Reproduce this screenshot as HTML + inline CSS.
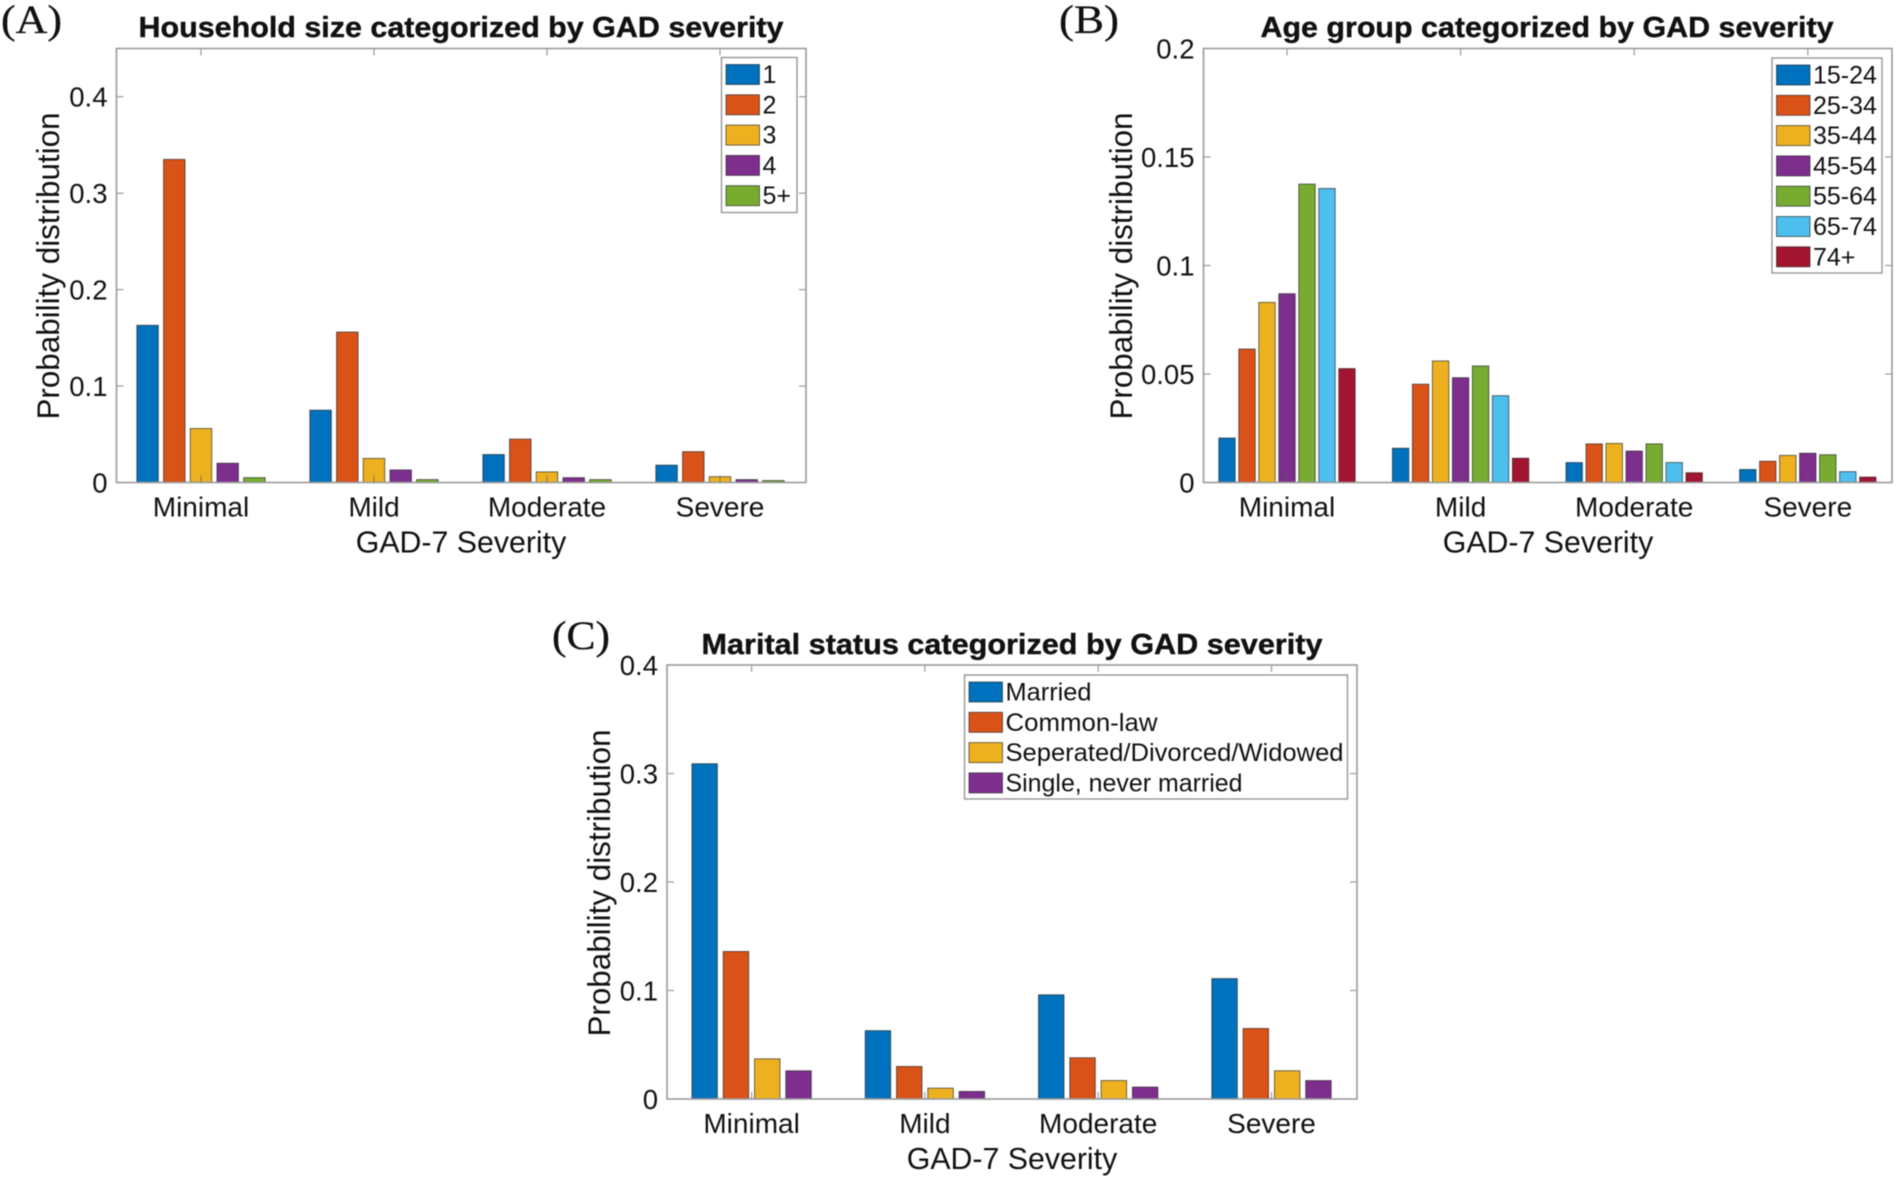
<!DOCTYPE html>
<html lang="en">
<head>
<meta charset="utf-8">
<title>GAD severity probability distributions</title>
<style>
  html, body { margin: 0; padding: 0; background: #fff; }
  body { width: 1900px; height: 1181px; overflow: hidden; }
  svg { display: block; filter: blur(0.4px); }
  text { font-family: "Liberation Sans", Arial, sans-serif; fill: #111; }
  .panel-letter { font-family: "Liberation Serif", "Times New Roman", serif; stroke: #111; stroke-width: 0.3px; }
</style>
</head>
<body>
<svg id="figure" xmlns="http://www.w3.org/2000/svg" width="1900" height="1181" viewBox="0 0 1900 1181">
  <rect width="1900" height="1181" fill="#ffffff"/>
  <text class="panel-letter" x="1" y="33" font-size="40" textLength="61" lengthAdjust="spacingAndGlyphs">(A)</text>
  <text class="panel-letter" x="1059" y="33" font-size="40" textLength="60" lengthAdjust="spacingAndGlyphs">(B)</text>
  <text class="panel-letter" x="552" y="649" font-size="40" textLength="58" lengthAdjust="spacingAndGlyphs">(C)</text>
</svg>
<script>
var categories = ['Minimal', 'Mild', 'Moderate', 'Severe'];
var seriesColors = ['#0072BD', '#D95319', '#EDB120', '#7E2F8E', '#77AC30', '#4DBEEE', '#A2142F'];

var householdLabels = ['1', '2', '3', '4', '5+'];
var householdSize1 = [0.163, 0.075, 0.029, 0.018];
var householdSize2 = [0.335, 0.156, 0.045, 0.032];
var householdSize3 = [0.056, 0.025, 0.011, 0.006];
var householdSize4 = [0.020, 0.013, 0.005, 0.003];
var householdSize5 = [0.005, 0.003, 0.003, 0.002];
var householdTicks = [0, 0.1, 0.2, 0.3, 0.4];
var householdTickLabels = ['0', '0.1', '0.2', '0.3', '0.4'];

var ageLabels = ['15-24', '25-34', '35-44', '45-54', '55-64', '65-74', '74+'];
var age15to24 = [0.0205, 0.0158, 0.0092, 0.0060];
var age25to34 = [0.0615, 0.0453, 0.0178, 0.0098];
var age35to44 = [0.0830, 0.0560, 0.0180, 0.0125];
var age45to54 = [0.0870, 0.0483, 0.0145, 0.0135];
var age55to64 = [0.1375, 0.0537, 0.0178, 0.0128];
var age65to74 = [0.1355, 0.0400, 0.0092, 0.0050];
var age74plus = [0.0525, 0.0112, 0.0045, 0.0025];
var ageTicks = [0, 0.05, 0.1, 0.15, 0.2];
var ageTickLabels = ['0', '0.05', '0.1', '0.15', '0.2'];

var maritalLabels = ['Married', 'Common-law', 'Seperated/Divorced/Widowed', 'Single, never married'];
var maritalMarried = [0.309, 0.063, 0.096, 0.111];
var maritalCommonLaw = [0.136, 0.030, 0.038, 0.065];
var maritalSeparated = [0.037, 0.010, 0.017, 0.026];
var maritalSingle = [0.026, 0.007, 0.011, 0.017];
var maritalTicks = [0, 0.1, 0.2, 0.3, 0.4];
var maritalTickLabels = ['0', '0.1', '0.2', '0.3', '0.4'];

var NS = 'http://www.w3.org/2000/svg';
var figure = document.getElementById('figure');

function makeText(parent, content, x, y, size, anchor, weight) {
  var t = document.createElementNS(NS, 'text');
  t.setAttribute('x', x);
  t.setAttribute('y', y);
  t.setAttribute('font-size', size);
  t.setAttribute('text-anchor', anchor);
  if (weight) t.setAttribute('font-weight', weight);
  t.textContent = content;
  parent.appendChild(t);
  return t;
}

function makeRect(parent, x, y, w, h, fill, stroke, sw) {
  var r = document.createElementNS(NS, 'rect');
  r.setAttribute('x', x);
  r.setAttribute('y', y);
  r.setAttribute('width', w);
  r.setAttribute('height', h);
  r.setAttribute('fill', fill);
  r.setAttribute('stroke', stroke);
  r.setAttribute('stroke-width', sw);
  parent.appendChild(r);
  return r;
}

function makeLine(parent, x1, y1, x2, y2, color, sw) {
  var l = document.createElementNS(NS, 'line');
  l.setAttribute('x1', x1);
  l.setAttribute('y1', y1);
  l.setAttribute('x2', x2);
  l.setAttribute('y2', y2);
  l.setAttribute('stroke', color);
  l.setAttribute('stroke-width', sw);
  parent.appendChild(l);
  return l;
}

function drawPanel(cfg) {
  var g = document.createElementNS(NS, 'g');
  
  
  figure.appendChild(g);

  var xScale = function (v) { return cfg.x0 + v * cfg.unit; };
  var yScale = function (v) { return cfg.bottom - (v / cfg.yMax) * (cfg.bottom - cfg.top); };

  var axisColor = '#9a9a9a';

  var title = makeText(g, cfg.title, cfg.titleX, cfg.titleY, 28.5, 'middle', 'bold');
  
  
  title.setAttribute('textLength', cfg.titleLen);
  title.setAttribute('lengthAdjust', 'spacingAndGlyphs');
  title.setAttribute('style', 'stroke:#111;stroke-width:0.4px');

  var n = cfg.series.length;
  cfg.series.forEach(function (vals, s) {
    vals.forEach(function (v, c) {
      var cx = xScale(c) + (s - (n - 1) / 2) * cfg.pitch;
      var b = makeRect(g, cx - cfg.barW / 2, yScale(v), cfg.barW, cfg.bottom - yScale(v), seriesColors[s], 'rgba(30,30,30,0.7)', 0.9);
      
      
    });
  });

  var box = makeRect(g, cfg.left, cfg.top, cfg.right - cfg.left, cfg.bottom - cfg.top, 'none', axisColor, 1.6);
  
  

  cfg.ticks.forEach(function (v, i) {
    var y = yScale(v);
    if (v > 0 && v < cfg.yMax) {
      var t1 = makeLine(g, cfg.left, y, cfg.left + 7, y, axisColor, 1.2);
      
      
      var t2 = makeLine(g, cfg.right - 7, y, cfg.right, y, axisColor, 1.2);
      
      
    }
    var lab = makeText(g, cfg.tickLabels[i], cfg.left - 9, y + 10, 27.5, 'end');
    
    
  });

  categories.forEach(function (name, c) {
    var x = xScale(c);
    var t1 = makeLine(g, x, cfg.top, x, cfg.top + 7, axisColor, 1.2);
    
    
    var t2 = makeLine(g, x, cfg.bottom - 7, x, cfg.bottom, 'rgba(90,90,90,0.6)', 1.2);
    
    
    var lab = makeText(g, name, x, cfg.bottom + 34, 28, 'middle');
    
    
  });

  var xl = makeText(g, 'GAD-7 Severity', cfg.xLabelX, cfg.bottom + 70, 30.3, 'middle');
  
  

  var yl = makeText(g, 'Probability distribution', 0, 0, 31.4, 'middle');
  
  
  yl.setAttribute('transform', 'translate(' + cfg.yLabelX + ',' + cfg.yLabelY + ') rotate(-90)');

  var leg = document.createElementNS(NS, 'g');
  
  
  g.appendChild(leg);
  var lf = makeRect(leg, cfg.legX, cfg.legY, cfg.legW, cfg.legH, '#ffffff', '#8f8f8f', 1.3);
  
  
  cfg.labels.forEach(function (name, s) {
    var sy = cfg.legY + 7 + s * 30.3;
    var sw = makeRect(leg, cfg.legX + 4.5, sy, 33.5, 20, seriesColors[s], 'rgba(30,30,30,0.7)', 0.9);
    
    
    var lb = makeText(leg, name, cfg.legX + 41, sy + 18.5, cfg.legFont, 'start');
    
    
    if (cfg.legLens) {
      lb.setAttribute('textLength', cfg.legLens[s]);
      lb.setAttribute('lengthAdjust', 'spacingAndGlyphs');
    }
  });
}

drawPanel({
  name: 'panel-household-size',
  title: 'Household size categorized by GAD severity',
  titleX: 461, titleY: 37, titleLen: 645,
  left: 116.5, right: 806, top: 48.5, bottom: 482.5, yMax: 0.45,
  x0: 201, unit: 173,
  pitch: 26.7, barW: 21.5,
  series: [householdSize1, householdSize2, householdSize3, householdSize4, householdSize5],
  labels: householdLabels,
  ticks: householdTicks, tickLabels: householdTickLabels,
  xLabelX: 461, yLabelX: 59, yLabelY: 266,
  legX: 721.5, legY: 57.5, legW: 75.5, legH: 155, legFont: 25
});

drawPanel({
  name: 'panel-age-group',
  title: 'Age group categorized by GAD severity',
  titleX: 1547, titleY: 37, titleLen: 573,
  left: 1203.5, right: 1892, top: 48.5, bottom: 482.5, yMax: 0.2,
  x0: 1287, unit: 173.6,
  pitch: 20, barW: 16.4,
  series: [age15to24, age25to34, age35to44, age45to54, age55to64, age65to74, age74plus],
  labels: ageLabels,
  ticks: ageTicks, tickLabels: ageTickLabels,
  xLabelX: 1548, yLabelX: 1132, yLabelY: 266,
  legX: 1772, legY: 58, legW: 110, legH: 215, legFont: 25
});

drawPanel({
  name: 'panel-marital-status',
  title: 'Marital status categorized by GAD severity',
  titleX: 1012, titleY: 654, titleLen: 621,
  left: 667, right: 1357, top: 665, bottom: 1099, yMax: 0.4,
  x0: 751.6, unit: 173.3,
  pitch: 31.3, barW: 25.5,
  series: [maritalMarried, maritalCommonLaw, maritalSeparated, maritalSingle],
  labels: maritalLabels,
  legLens: [86, 152, 338, 237],
  ticks: maritalTicks, tickLabels: maritalTickLabels,
  xLabelX: 1012, yLabelX: 610, yLabelY: 883,
  legX: 964.5, legY: 675, legW: 383, legH: 124, legFont: 25
});
</script>
</body>
</html>
